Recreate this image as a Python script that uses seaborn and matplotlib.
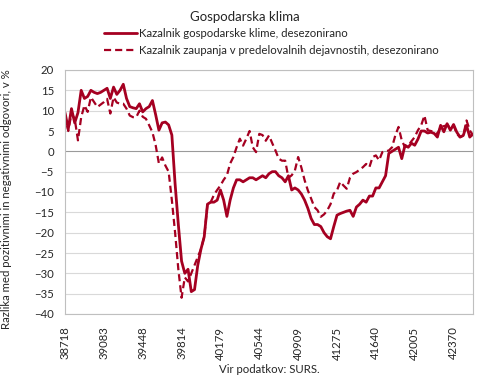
import numpy as np
import pandas as pd
import matplotlib
matplotlib.use("Agg")
import matplotlib.pyplot as plt
import seaborn as sns

# Monthly observations, Jan 2006 onward (Excel serial dates on the axis)
klima = [9.5, 5.5, 10.5, 7, 9.5, 15, 13, 13.5, 15, 14.5,
         14.2, 14.5, 15, 15.5, 13, 15.8, 14, 15, 16.5, 13,
         11, 10.7, 10.5, 11.7, 9.7, 10.5, 11, 12.5, 9, 5.2,
         7, 7.2, 6.5, 4, -8, -18, -27, -30, -29, -34.5,
         -34, -28, -24, -21, -13, -12.5, -12.5, -12, -9.5, -12,
         -16, -12, -9, -7, -7, -7.5, -7, -6.5, -6.5, -7,
         -6.5, -6, -6.5, -5.5, -5, -5, -6, -6.5, -7.5, -6,
         -9.5, -9, -9.5, -10.5, -12, -14, -16.5, -18, -18, -18.5,
         -20, -21, -21.5, -18.5, -15.7, -15.3, -15, -14.7, -14.5, -16,
         -13.7, -13, -12, -12.5, -11, -11, -9, -9, -7.5, -6,
         -0.5, 0, 0.5, 1, -1.8, 1.5, 1, 2, 1.5, 3,
         5, 5, 4.5, 4.7, 4.4, 3.5, 6.4, 4.8, 6.8, 5.2,
         6.6, 4.7, 3.5, 3.9, 6.4, 3.5, 4.3]

predelovalne = [9, 5, 9.3, 8, 2.7, 8.4, 11.3, 9.7, 13.3, 12.1,
                10.9, 11.5, 12.1, 12.9, 9.3, 13.3, 12, 11.7, 11.7, 10.5,
                8.8, 8.4, 8.4, 10, 8.5, 8, 6.4, 4.7, 1.5, -3,
                -1.5, -3.5, -5, -12, -20, -29, -36, -31, -32, -30,
                -28, -26, -24, -21, -13, -12.5, -10.7, -9.5, -8.4, -7,
                -5.9, -3, -1.4, 1, 3.1, 1.4, 3.1, 5, 1, -0.2,
                4.3, 4, 2.6, 3.9, 2, 0.2, -1.8, -2.3, -2.3, -6.5,
                -5.9, -4.7, -1.4, -4, -7.1, -9.6, -11.6, -13.7, -14.5, -16.1,
                -15.5, -14.5, -13, -10.4, -9.6, -7.5, -8.4, -9.2, -6.5, -5.5,
                -5.1, -4.5, -3.9, -3.1, -3.9, -1.4, -1, -2.2, -0.2, 0,
                0.2, 1, 3.9, 6, 2.7, 1, 1.4, 2.5, 3.5, 5.2,
                6.4, 8.8, 5.2, 5, 4.8, 4.3, 6, 6.2, 6.4, 6,
                6.4, 4.3, 3.5, 3.9, 7.6, 5.2, 3.8]

tick_labels = ["38718", "39083", "39448", "39814", "40179", "40544",
               "40909", "41275", "41640", "42005", "42370"]

label_klima = "Kazalnik gospodarske klime, desezonirano"
label_pred = "Kazalnik zaupanja v predelovalnih dejavnostih, desezonirano"

n = len(klima)
df = pd.DataFrame({"mesec": np.arange(n), "klima": klima,
                   "pred": predelovalne})

sns.set_theme(style="white")
plt.rcParams["font.family"] = ["Lato", "DejaVu Sans"]

color = "#A50021"
fig = plt.figure(figsize=(4.9, 3.8), dpi=100)
ax = fig.add_axes([65/490, 1-314/380, (473-65)/490, (314-70)/380])

sns.lineplot(data=df, x="mesec", y="klima", ax=ax, color=color,
             linewidth=2.0, label=label_klima, legend=False)
sns.lineplot(data=df, x="mesec", y="pred", ax=ax, color=color,
             linewidth=1.6, label=label_pred, legend=False)
ax.lines[1].set_dashes((3.2, 1.8))

ax.set_xlim(0, n - 1)
ax.set_ylim(-40, 20)
ax.set_yticks(np.arange(-40, 21, 5))
ax.set_xticks(np.arange(0, 12 * len(tick_labels), 12))
ax.set_xticklabels(tick_labels, rotation=90, fontsize=8.2)
ax.tick_params(axis="y", labelsize=8.2, pad=2)
ax.tick_params(axis="x", pad=3)

for y in np.arange(-40, 21, 5):
    ax.axhline(y, color="#9a9a9a" if y == 0 else "#d9d9d9",
               linewidth=0.8, zorder=0)
for s in ax.spines.values():
    s.set_color("#bfbfbf")
    s.set_linewidth(0.8)

ax.set_xlabel("Vir podatkov: SURS.", fontsize=8.2, labelpad=3)
ax.set_ylabel("Razlika med pozitivnimi in negativnimi odgovori, v %",
              fontsize=8.2)
ax.yaxis.set_label_coords(-0.13, 0.47)

fig.text(245/490, 1-17/380, "Gospodarska klima", ha="center", va="center",
         fontsize=9.5)
h, l = ax.get_legend_handles_labels()
fig.legend(h, l, loc="upper left", bbox_to_anchor=(104/490, 1-28/380),
           frameon=False, fontsize=8.2, handlelength=2.9,
           handletextpad=0.2, labelspacing=0.5, borderaxespad=0,
           borderpad=0)

fig.savefig("out.png", dpi=100)
